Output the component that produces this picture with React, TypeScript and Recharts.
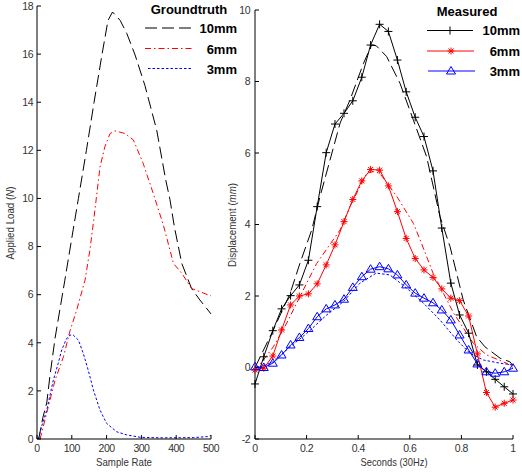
import React from 'react';
import { LineChart, Line, XAxis, YAxis, Label } from 'recharts';

// left panel: groundtruth load vs sample rate
const gt10Sample = [5, 17, 28, 37, 52, 80, 104, 119, 142, 164, 187, 204, 217, 239, 258, 282, 310, 344, 370, 382, 395, 416, 444, 468, 500];
const gt10Load = [0, 0.9, 1.5, 2.6, 4.2, 6.6, 8.7, 10, 12, 14, 16, 17.4, 17.75, 17.4, 16.86, 15.96, 14.7, 12.84, 10.76, 9.96, 8.8, 7.3, 6.26, 5.78, 5.2];

const gt6Sample = [9, 23, 37, 52, 76, 95, 114, 138, 152, 163, 181, 195, 210, 224, 253, 277, 305, 334, 363, 382, 392, 416, 444, 492, 500];
const gt6Load = [0, 0.8, 1.6, 2.45, 3.42, 4.5, 5.36, 6.6, 7.86, 9.1, 11.3, 12.15, 12.7, 12.81, 12.7, 12.43, 11.46, 10.21, 8.9, 7.86, 7.3, 6.89, 6.26, 5.99, 5.95];

const gt3Sample = [4, 13, 28, 47, 61, 71, 85, 95, 104, 119, 133, 147, 162, 181, 200, 229, 258, 297, 350, 400, 450, 490, 500];
const gt3Load = [0, 0.51, 1.2, 2.45, 3.15, 3.7, 4.18, 4.32, 4.32, 4.11, 3.56, 2.87, 2.04, 1.2, 0.65, 0.3, 0.17, 0.07, 0.05, 0.05, 0.06, 0.1, 0.15];

// right panel: measured displacement, 30 samples over 1 s
const measuredTime = [0, 0.034, 0.069, 0.103, 0.138, 0.172, 0.207, 0.241, 0.276, 0.31, 0.345, 0.379, 0.414, 0.448, 0.483, 0.517, 0.552, 0.586, 0.621, 0.655, 0.69, 0.724, 0.759, 0.793, 0.828, 0.862, 0.897, 0.931, 0.966, 1];
const measured10 = [-0.46, 0.3, 1.03, 1.64, 2.01, 2.31, 3.0, 4.5, 6.01, 6.81, 7.11, 7.46, 8.12, 9.02, 9.6, 9.4, 8.6, 7.71, 7.0, 6.46, 5.5, 3.9, 2.36, 1.47, 0.96, 0.07, -0.12, -0.33, -0.54, -0.74];
const measured6 = [-0.07, -0.02, 0.32, 1.05, 1.75, 2.0, 2.06, 2.34, 2.87, 3.43, 4.08, 4.7, 5.22, 5.54, 5.52, 5.08, 4.36, 3.61, 3.05, 2.73, 2.52, 2.2, 1.94, 1.87, 1.44, 0.38, -0.7, -1.11, -1.0, -0.91];
const measured3 = [0.02, 0.0, 0.12, 0.35, 0.63, 0.84, 1.09, 1.42, 1.64, 1.75, 1.91, 2.24, 2.54, 2.75, 2.82, 2.76, 2.59, 2.31, 2.08, 1.94, 1.81, 1.61, 1.33, 0.91, 0.49, 0.1, -0.12, -0.16, -0.12, -0.02];

// right panel: groundtruth curves overlaid (no markers)
const fit10Time = [0, 0.071, 0.136, 0.174, 0.22, 0.252, 0.33, 0.368, 0.42, 0.452, 0.47, 0.51, 0.562, 0.614, 0.665, 0.717, 0.756, 0.807, 0.859, 0.891, 0.95, 0.988, 1];
const fit10Disp = [0, 1.05, 2.07, 2.91, 3.85, 4.78, 6.84, 7.48, 8.5, 9.02, 9.0, 8.7, 7.95, 6.92, 5.9, 4.22, 3.38, 1.89, 0.86, 0.58, 0.26, 0.16, 0.05];
const fit6Time = [0, 0.071, 0.123, 0.174, 0.239, 0.33, 0.368, 0.433, 0.459, 0.484, 0.55, 0.614, 0.64, 0.69, 0.77, 0.846, 0.898, 0.975, 1];
const fit6Disp = [-0.1, 0.58, 1.24, 1.98, 2.91, 3.85, 4.5, 5.43, 5.48, 5.43, 4.78, 4.03, 3.57, 2.64, 1.52, 0.68, 0.35, 0.12, 0.0];
const fit3Time = [0, 0.071, 0.136, 0.2, 0.278, 0.342, 0.407, 0.47, 0.523, 0.588, 0.653, 0.717, 0.782, 0.833, 0.885, 0.95, 1];
const fit3Disp = [-0.05, 0.16, 0.58, 0.95, 1.47, 1.84, 2.36, 2.64, 2.59, 2.22, 1.8, 1.33, 0.77, 0.4, 0.21, 0.12, 0.07];

const sampleTicks = [0, 100, 200, 300, 400, 500];
const loadTicks = [0, 2, 4, 6, 8, 10, 12, 14, 16, 18];
const timeTicks = [0, 0.2, 0.4, 0.6, 0.8, 1];
const dispTicks = [-2, 0, 2, 4, 6, 8, 10];

const zip = (xs: number[], ys: number[], k: string) => xs.map((x, i) => ({ [k]: x, v: ys[i] }));

const FONT = "'Liberation Sans', Arial, sans-serif";
const tickStyle = { fill: '#333', fontSize: 10.5, fontFamily: FONT, letterSpacing: -0.5 };

const DASH_LONG = '12 5';
const DASH_DOT = '6 3 1.5 3';
const DOTTED = '2.5 2';

const plusPath = (x: number, y: number) => `M${x - 4},${y}H${x + 4}M${x},${y - 4}V${y + 4}`;
const starPath = (x: number, y: number) =>
  `M${x - 3.5},${y}H${x + 3.5}M${x},${y - 3.5}V${y + 3.5}M${x - 2.5},${y - 2.5}L${x + 2.5},${y + 2.5}M${x - 2.5},${y + 2.5}L${x + 2.5},${y - 2.5}`;
const triPath = (x: number, y: number) => `M${x},${y - 4.5}L${x + 4.5},${y + 3}L${x - 4.5},${y + 3}Z`;

const PlusDot = (p: any) => <path key={`plus-${p.index}`} d={plusPath(p.cx, p.cy)} stroke="#000" strokeWidth={1} fill="none" />;
const StarDot = (p: any) => <path key={`star-${p.index}`} d={starPath(p.cx, p.cy)} stroke="#f00" strokeWidth={1} fill="none" />;
const TriDot = (p: any) => <path key={`tri-${p.index}`} d={triPath(p.cx, p.cy)} stroke="#00f" strokeWidth={1} fill="none" />;

const axisProps = {
  axisLine: { stroke: '#000' },
  tickLine: { stroke: '#000' },
  tickSize: -4,
  tick: tickStyle,
};

const legendText = { fontFamily: FONT, fontWeight: 'bold', fontSize: 13, fill: '#000' } as const;

const LeftLegend = () => (
  <svg width={522} height={90} style={{ position: 'absolute', left: 0, top: 0 }}>
    <text x={189} y={14} textAnchor="middle" {...legendText}>Groundtruth</text>
    <line x1={145} x2={193} y1={28} y2={28} stroke="#000" strokeDasharray={DASH_LONG} />
    <text x={237} y={32.5} textAnchor="end" {...legendText}>10mm</text>
    <line x1={145} x2={193} y1={48.5} y2={48.5} stroke="#f00" strokeDasharray={DASH_DOT} />
    <text x={237} y={53.5} textAnchor="end" {...legendText}>6mm</text>
    <line x1={148} x2={193} y1={68.5} y2={68.5} stroke="#00f" strokeDasharray={DOTTED} />
    <text x={237} y={74} textAnchor="end" {...legendText}>3mm</text>
  </svg>
);

const RightLegend = () => (
  <svg width={522} height={90} style={{ position: 'absolute', left: 0, top: 0 }}>
    <text x={467} y={15.5} textAnchor="middle" {...legendText}>Measured</text>
    <line x1={427} x2={473} y1={30.5} y2={30.5} stroke="#000" />
    <path d={plusPath(450, 30.5)} stroke="#000" fill="none" />
    <text x={520} y={35} textAnchor="end" {...legendText}>10mm</text>
    <line x1={427} x2={474} y1={51} y2={51} stroke="#f00" />
    <path d={starPath(451, 51)} stroke="#f00" fill="none" />
    <text x={520} y={55.5} textAnchor="end" {...legendText}>6mm</text>
    <line x1={428} x2={475} y1={71} y2={71} stroke="#00f" />
    <path d={triPath(451, 71)} stroke="#00f" fill="none" />
    <text x={520} y={75.5} textAnchor="end" {...legendText}>3mm</text>
  </svg>
);

export default function App() {
  return (
    <div style={{ position: 'absolute', left: 0, top: 0, width: 522, height: 472, background: '#fff' }}>
      <div style={{ position: 'absolute', left: 0, top: 0 }}>
        <LineChart width={522} height={472} margin={{ top: 6, right: 311, bottom: 0, left: 0 }}>
          <XAxis type="number" dataKey="s" domain={[0, 500]} ticks={sampleTicks} height={33} tickMargin={10} {...axisProps}>
            <Label
              content={() => (
                <text x={124} y={466} textAnchor="middle" fontFamily={FONT} fontSize={11.5} fill="#333" textLength={56} lengthAdjust="spacingAndGlyphs">
                  Sample Rate
                </text>
              )}
            />
          </XAxis>
          <YAxis type="number" domain={[0, 18]} ticks={loadTicks} width={37} tickMargin={8} {...axisProps}>
            <Label
              content={() => (
                <text x={14} y={223} transform="rotate(-90 14 223)" textAnchor="middle" fontFamily={FONT} fontSize={11} fill="#333" textLength={73} lengthAdjust="spacingAndGlyphs">
                  Applied Load (<tspan fontStyle="italic">N</tspan>)
                </text>
              )}
            />
          </YAxis>
          <Line data={zip(gt10Sample, gt10Load, 's')} dataKey="v" stroke="#000" strokeWidth={1} strokeDasharray={DASH_LONG} dot={false} activeDot={false} isAnimationActive={false} />
          <Line data={zip(gt6Sample, gt6Load, 's')} dataKey="v" stroke="#f00" strokeWidth={1} strokeDasharray={DASH_DOT} dot={false} activeDot={false} isAnimationActive={false} />
          <Line data={zip(gt3Sample, gt3Load, 's')} dataKey="v" stroke="#00f" strokeWidth={1} strokeDasharray={DOTTED} dot={false} activeDot={false} isAnimationActive={false} />
        </LineChart>
      </div>
      <div style={{ position: 'absolute', left: 0, top: 0 }}>
        <LineChart width={522} height={472} margin={{ top: 10, right: 9, bottom: 0, left: 230 }}>
          <XAxis type="number" dataKey="t" domain={[0, 1]} ticks={timeTicks} height={33} tickMargin={10} {...axisProps}>
            <Label
              content={() => (
                <text x={394} y={466} textAnchor="middle" fontFamily={FONT} fontSize={11.5} fill="#333" textLength={67} lengthAdjust="spacingAndGlyphs">
                  Seconds (30Hz)
                </text>
              )}
            />
          </XAxis>
          <YAxis type="number" domain={[-2, 10]} ticks={dispTicks} width={25} tickMargin={9} {...axisProps}>
            <Label
              content={() => (
                <text x={236} y={225} transform="rotate(-90 236 225)" textAnchor="middle" fontFamily={FONT} fontSize={11} fill="#333" textLength={84} lengthAdjust="spacingAndGlyphs">
                  Displacement (<tspan fontStyle="italic">mm</tspan>)
                </text>
              )}
            />
          </YAxis>
          <Line data={zip(fit10Time, fit10Disp, 't')} dataKey="v" stroke="#000" strokeWidth={1} strokeDasharray={DASH_LONG} dot={false} activeDot={false} isAnimationActive={false} />
          <Line data={zip(fit6Time, fit6Disp, 't')} dataKey="v" stroke="#f00" strokeWidth={1} strokeDasharray={DASH_DOT} dot={false} activeDot={false} isAnimationActive={false} />
          <Line data={zip(fit3Time, fit3Disp, 't')} dataKey="v" stroke="#00f" strokeWidth={1} strokeDasharray={DOTTED} dot={false} activeDot={false} isAnimationActive={false} />
          <Line data={zip(measuredTime, measured10, 't')} dataKey="v" stroke="#000" strokeWidth={1} dot={PlusDot} activeDot={false} isAnimationActive={false} />
          <Line data={zip(measuredTime, measured6, 't')} dataKey="v" stroke="#f00" strokeWidth={1} dot={StarDot} activeDot={false} isAnimationActive={false} />
          <Line data={zip(measuredTime, measured3, 't')} dataKey="v" stroke="#00f" strokeWidth={1} dot={TriDot} activeDot={false} isAnimationActive={false} />
        </LineChart>
      </div>
      <LeftLegend />
      <RightLegend />
    </div>
  );
}
